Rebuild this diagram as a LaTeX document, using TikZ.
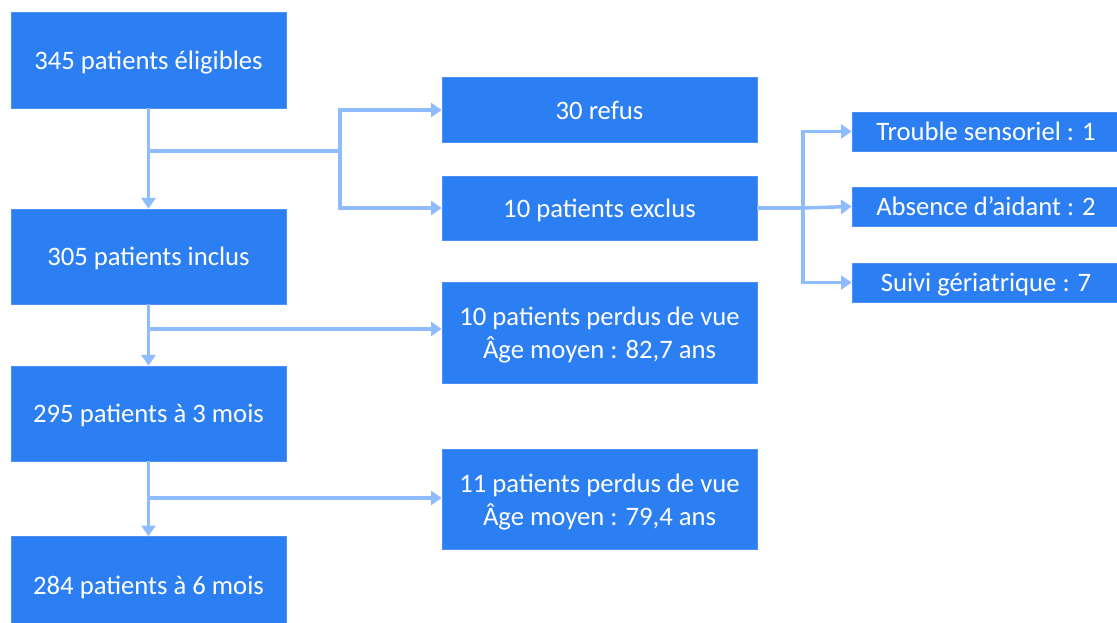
\documentclass[tikz,border=0pt]{standalone}
\usepackage{fontspec}
\setmainfont{Carlito}
\usetikzlibrary{arrows.meta}
\definecolor{boxblue}{HTML}{2C7EF3}
\definecolor{linkblue}{HTML}{8FBBFF}
\newcommand\twolines[2]{\begin{tabular}[t]{@{}c@{}}#1\\#2\end{tabular}}
\tikzset{
  box/.style={draw=boxblue!85!white, line width=0.5pt, fill=boxblue, text=white, inner sep=0pt,
    font=\fontsize{20}{24.75}\selectfont, text height=15pt, text depth=1pt},
  boxtwo/.style={box, text height=15pt, text depth=24.75pt},
  conn/.style={draw=linkblue, line width=2.6pt},
  arr/.style={conn, -{Triangle[length=8pt,width=10.5pt]}}
}
\begin{document}
\begin{tikzpicture}[x=0.75pt,y=-0.75pt]
\useasboundingbox (0,0) rectangle (1117,623);
\clip (0,0) rectangle (1117,623);
% left column
\node[box, minimum width={275*0.75pt}, minimum height={96*0.75pt}] (A) at (148.5,60) {345 patients éligibles};
\node[box, minimum width={275*0.75pt}, minimum height={95*0.75pt}] (B) at (148.5,256.5) {305 patients inclus};
\node[box, minimum width={275*0.75pt}, minimum height={95*0.75pt}] (C) at (148.5,413.5) {295 patients à 3 mois};
\node[box, minimum width={275*0.75pt}, minimum height={97*0.75pt}] (D) at (148.5,585) {284 patients à 6 mois};
% middle column
\node[box, minimum width={315*0.75pt}, minimum height={65*0.75pt}] (R1) at (599.5,110) {30 refus};
\node[box, minimum width={315*0.75pt}, minimum height={64*0.75pt}] (R2) at (599.5,208) {10 patients exclus};
\node[boxtwo, minimum width={315*0.75pt}, minimum height={101*0.75pt}] (R3) at (599.5,332.5) {\twolines{10 patients perdus de vue}{Âge moyen : 82,7 ans}};
\node[boxtwo, minimum width={315*0.75pt}, minimum height={100*0.75pt}] (R4) at (599.5,499) {\twolines{11 patients perdus de vue}{Âge moyen : 79,4 ans}};
% right column
\node[box, minimum width={268*0.75pt}, minimum height={39*0.75pt}] (F1) at (986,131.5) {Trouble sensoriel : 1};
\node[box, minimum width={268*0.75pt}, minimum height={39*0.75pt}] (F2) at (986,206.5) {Absence d’aidant : 2};
\node[box, minimum width={268*0.75pt}, minimum height={39*0.75pt}] (F3) at (986,282.5) {Suivi gériatrique : 7};
% junctions
\coordinate (j1) at (148.5,151);
\coordinate (k1) at (340,151);
\coordinate (k2) at (803,208);
\coordinate (j2) at (148.5,329);
\coordinate (j3) at (148.5,498);
% connectors
\draw[arr] (A.south) -- (B.north);
\draw[arr] (B.south) -- (C.north);
\draw[arr] (C.south) -- (D.north);
\draw[conn] (j1) -- (k1);
\draw[arr] (k1) |- (R1.west);
\draw[arr] (k1) |- (R2.west);
\draw[conn] (R2.east) -- (k2);
\draw[arr] (k2) |- (F1.west);
\draw[arr] (k2) -- (F2.west);
\draw[arr] (k2) |- (F3.west);
\draw[arr] (j2) -- (R3.west |- j2);
\draw[arr] (j3) -- (R4.west |- j3);
\end{tikzpicture}
\end{document}
